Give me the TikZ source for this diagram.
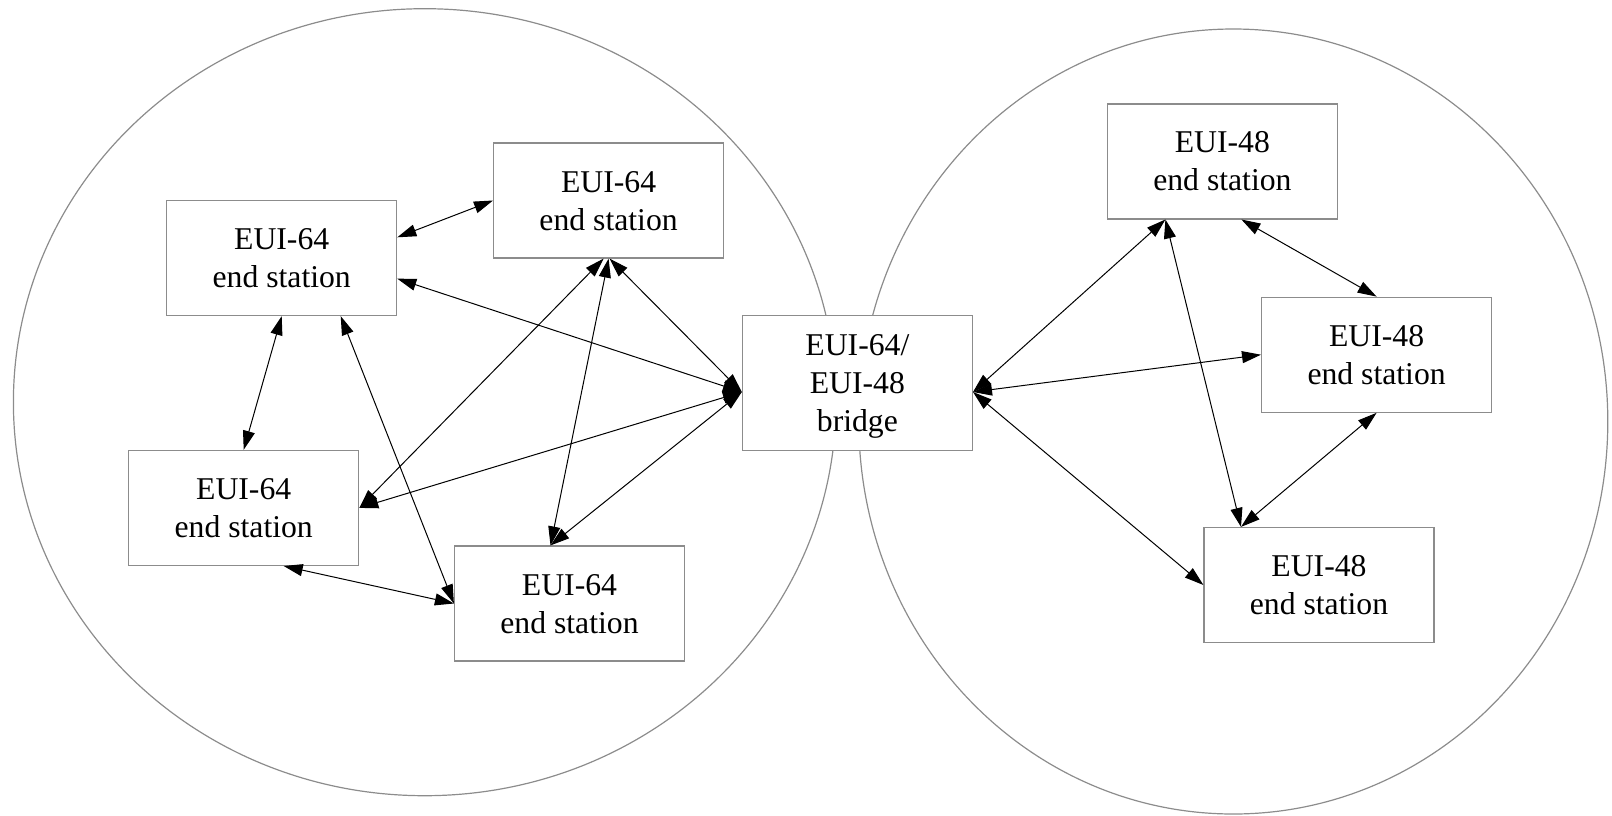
\documentclass[tikz,border=0pt]{standalone}
\usepackage{fontspec}
\setmainfont{Liberation Serif}
\usetikzlibrary{arrows.meta}
\definecolor{edgegray}{HTML}{8C8C8C}

\begin{document}
\begin{tikzpicture}[
    x=1pt, y=-1pt,
    box/.style={rectangle, minimum width=230pt, minimum height=115pt,
                draw=edgegray, line width=1.2pt, fill=white, align=center,
                inner sep=0pt, font=\fontsize{31.7}{38}\selectfont,
                text depth=-14pt},
    arrow/.style={{Triangle[length=19pt, width=12pt]}-{Triangle[length=19pt, width=12pt]},
                  line width=1pt},
    zone/.style={draw=edgegray, line width=1.2pt}
]
\useasboundingbox (0,0) rectangle (1612,815);

% Segments
\draw[zone] (424.7,402.2) ellipse [x radius=411.3pt, y radius=393.5pt];
\draw[zone] (1233.3,421.5) ellipse [x radius=374.5pt, y radius=392.5pt];

% Bridge
\node[box, minimum height=134.7pt, text depth=-7pt] (bridge) at (857.4,383) {EUI-64/\\EUI-48\\bridge};

% EUI-64 end stations
\node[box] (s64a) at (281.7,258) {EUI-64\\end station};
\node[box] (s64b) at (608.6,200.5) {EUI-64\\end station};
\node[box] (s64c) at (243.7,507.9) {EUI-64\\end station};
\node[box] (s64d) at (569.5,603.5) {EUI-64\\end station};

% EUI-48 end stations
\node[box] (s48a) at (1222.4,161.4) {EUI-48\\end station};
\node[box] (s48b) at (1376.6,354.7) {EUI-48\\end station};
\node[box] (s48c) at (1319,585) {EUI-48\\end station};

% Attachment points
\coordinate (bl) at ([yshift=-9pt]bridge.west);
\coordinate (br) at ([yshift=-9pt]bridge.east);
\coordinate (e48) at ([xshift=-57pt]s48a.south);
\coordinate (g48) at ([xshift=-78pt]s48c.north);
\coordinate (d64) at ([xshift=-19pt]s64d.north);

% EUI-64 links
\draw[arrow] ([yshift=20.7pt]s64a.east) -- (s64b.west);
\draw[arrow] ([yshift=-20.7pt]s64a.east) -- (bl);
\draw[arrow] (s64a.south) -- (s64c.north);
\draw[arrow] ([xshift=59pt]s64a.south) -- (s64d.west);
\draw[arrow] ([xshift=-5pt]s64b.south) -- (s64c.east);
\draw[arrow] (s64b.south) -- (d64);
\draw[arrow] ([xshift=1pt]s64b.south) -- (bl);
\draw[arrow] (s64c.east) -- (bl);
\draw[arrow] (d64) -- (bl);
\draw[arrow] ([xshift=40pt]s64c.south) -- (s64d.west);

% EUI-48 links
\draw[arrow] (br) -- (e48);
\draw[arrow] (br) -- (s48b.west);
\draw[arrow] (br) -- (s48c.west);
\draw[arrow] (e48) -- (g48);
\draw[arrow] ([xshift=19pt]s48a.south) -- (s48b.north);
\draw[arrow] (s48b.south) -- (g48);

\end{tikzpicture}
\end{document}
